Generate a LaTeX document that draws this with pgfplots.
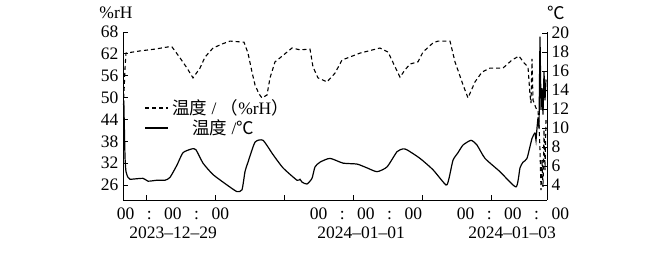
\documentclass[border=0pt]{standalone}
\usepackage{fontspec}
\setmainfont{Liberation Serif}
\newfontfamily\cjk{Noto Sans CJK SC}
\usepackage{pgfplots}
\pgfplotsset{compat=1.18}
\newcommand\lf{\fontsize{17.5pt}{20pt}\selectfont}
\pgfplotstableread{
x h
0.5 48.0
2 58
3 62.2
17 62.8
32 63.3
47 64.0
49 63.9
57 60.9
64 58.1
70 55.4
77 58.1
82 61.1
90 63.6
100 64.8
107 65.5
121 65.2
125 62.2
129 57
132 53.5
136 51
139 49.9
144 50.7
147 55.4
152 59.8
157 60.9
169 63.6
177 63.1
187 63.3
190 58.4
195 55.4
204 54.3
212 56.7
219 60.3
237 62.2
257 63.6
265 62.5
277 55.6
282 57.6
287 59.2
295 59.8
300 62.5
310 65.0
315 65.5
327 65.5
332 59.8
340 53.5
345 49.9
352 54.3
359 57.0
367 58.1
380 58.1
389 60.3
396 61.4
401 59.5
405 58.4
407 50.7
408 48.5
409 60.6
410 49.3
413 47.1
415 46.5
416 42.5
417 35.6
418 24.6
419 33
420 25.5
421 41.1
422 30.1
423 43.8
}\hum
\pgfplotstableread{
x t
0.8 12.9
2 7.0
3 5.4
5 4.8
7 4.6
20 4.7
25 4.4
34 4.5
42 4.5
47 4.8
54 6.1
60 7.4
69 7.8
73 7.7
80 6.3
90 5.1
104 4.0
114 3.3
119 3.5
122 5.4
125 6.4
132 8.5
140 8.7
150 7.2
160 5.8
174 4.5
177 4.6
179 4.3
184 4.1
189 4.7
192 5.9
197 6.4
207 6.8
220 6.3
234 6.2
244 5.8
254 5.4
264 5.9
274 7.5
280 7.8
284 7.7
297 6.8
310 5.6
323 4.0
326 4.7
330 6.6
335 7.4
340 8.2
348 8.7
354 8.2
362 6.8
377 5.4
393 3.8
397 5.8
400 6.4
404 6.8
409 8.9
412 9.5
}\tmain
\pgfplotstableread{
x t
412 9.5
413 8.7
414 10.0
415 11.1
416 10.0
417 19.6
418 11.9
419 14.2
420 11.4
421 15.9
422 12.9
423 15.1
}\tend
\begin{document}
\begin{tikzpicture}
\path[use as bounding box] (0,0) rectangle (672pt,261pt);
\begin{axis}[
  at={(123pt,61pt)}, anchor=south west,
  width=424pt, height=168pt, scale only axis,
  xmin=0, xmax=424, ymin=21.88, ymax=68,
  axis x line*=bottom, axis y line*=left,
  xtick={23,92,161,230,299,368}, xticklabels={},
  ytick={26,32,38,44,50,56,62,68},
  tick align=inside, major tick length=5pt,
  tick style={black, line width=0.8pt},
  axis line style={black, line width=0.9pt},
  /pgf/number format/assume math mode=true,
  yticklabel style={font=\lf, xshift=-1pt},
  clip=false,
]
\addplot[black, line width=1.1pt, dash pattern=on 4pt off 3pt] table[x=x,y=h]{\hum};
\end{axis}
\begin{axis}[
  at={(123pt,61pt)}, anchor=south west,
  width=424pt, height=168pt, scale only axis,
  xmin=0, xmax=424, ymin=2.42, ymax=20.1,
  axis y line*=right, axis x line=none,
  ytick={4,6,...,20},
  tick align=inside, major tick length=5pt,
  tick style={black, line width=0.8pt},
  axis line style={black, line width=0.9pt},
  /pgf/number format/assume math mode=true,
  yticklabel style={font=\lf, xshift=1pt},
  clip=false,
]
\addplot[black, line width=1.2pt, smooth, tension=0.35] table[x=x,y=t]{\tmain};
\addplot[black, line width=1.2pt] table[x=x,y=t]{\tend};
\end{axis}
% legend
\draw[black, line width=1.1pt, dash pattern=on 4pt off 3pt] (145pt,153pt) -- (168pt,153pt);
\node[anchor=west, inner sep=0pt, font=\lf] at (172pt,153pt) {{\cjk 温度} / {\cjk （}\%rH{\cjk ）}};
\draw[black, line width=1.2pt] (145pt,133pt) -- (168pt,133pt);
\node[anchor=west, inner sep=0pt, font=\lf] at (192pt,133pt) {{\cjk 温度} /{\cjk ℃}};
% unit labels
\node[font=\lf, inner sep=0pt] at (116pt,248pt) {\%rH};
\node[font=\lf, inner sep=0pt] at (556pt,248pt) {\cjk ℃};
% x labels
\node[font=\lf, inner sep=0pt] at (173pt,47pt) {00\hspace{12.5pt}:\hspace{12.5pt}00\hspace{12.5pt}:\hspace{12.5pt}00};
\node[font=\lf, inner sep=0pt] at (173pt,28pt) {2023--12--29};
\node[font=\lf, inner sep=0pt] at (366pt,47pt) {00\hspace{12.5pt}:\hspace{12.5pt}00\hspace{12.5pt}:\hspace{12.5pt}00};
\node[font=\lf, inner sep=0pt] at (361pt,28pt) {2024--01--01};
\node[font=\lf, inner sep=0pt] at (513pt,47pt) {00\hspace{12.5pt}:\hspace{12.5pt}00\hspace{12.5pt}:\hspace{12.5pt}00};
\node[font=\lf, inner sep=0pt] at (512pt,28pt) {2024--01--03};
\end{tikzpicture}
\end{document}
